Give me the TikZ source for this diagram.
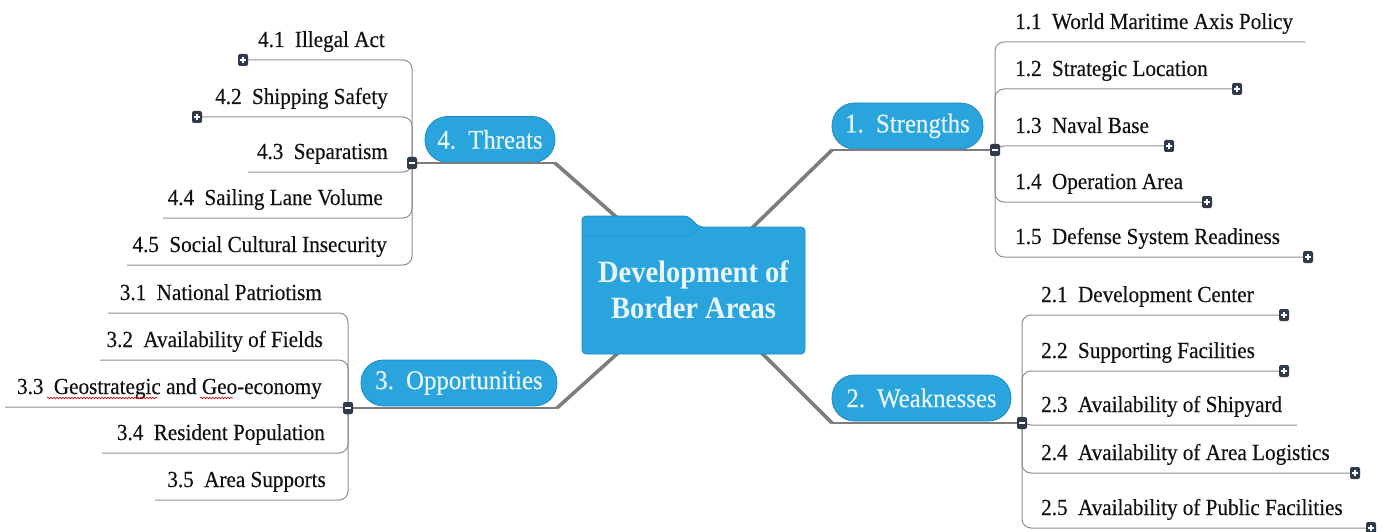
\documentclass[tikz,border=0pt]{standalone}
\usepackage{fontspec}
\setmainfont{Liberation Serif}[FakeStretch=0.92]
\newfontfamily\leaffont{Liberation Serif}[FakeStretch=0.92, FakeBold=0.35]
\usetikzlibrary{decorations.pathmorphing}
\definecolor{xblue}{HTML}{2AA4DD}
\definecolor{xblueedge}{HTML}{1F8BC2}
\definecolor{xtext}{HTML}{E8F6FC}
\definecolor{boxc}{HTML}{2F3A4C}
\definecolor{linec}{HTML}{8E8E8E}
\definecolor{spokec}{HTML}{7D7D7D}
\definecolor{ink}{HTML}{111111}
\newcommand\gapp{\hspace{0.45em}}
\begin{document}
\begin{tikzpicture}[x=1pt,y=-1pt,
  pill/.style={fill=xblue, draw=xblueedge, line width=0.8pt, rounded corners=22.5pt,
    text=xtext, font=\leaffont\fontsize{27}{30}\selectfont, inner sep=0pt, minimum height=46pt},
  centertext/.style={text=xtext, font=\bfseries\fontsize{31}{36}\selectfont, align=center, inner sep=0pt},
  leaf/.style={text=ink, font=\leaffont\fontsize{23}{26}\selectfont, inner sep=0pt},
  sub/.style={draw=linec, line width=1pt, rounded corners=9pt},
  branch/.style={draw=spokec, line width=1.5pt},
  spoke/.style={draw=spokec, line width=3.6pt},
  pbox/.style={fill=boxc, rounded corners=2pt, minimum width=10pt, minimum height=12pt, inner sep=0pt,
    path picture={\draw[white,line width=1.1pt]
      ([xshift=-2.6pt]path picture bounding box.center) -- ([xshift=2.6pt]path picture bounding box.center)
      ([yshift=-2.6pt]path picture bounding box.center) -- ([yshift=2.6pt]path picture bounding box.center);}},
  mbox/.style={fill=boxc, rounded corners=2pt, minimum width=10pt, minimum height=12pt, inner sep=0pt,
    path picture={\draw[white,line width=1.1pt]
      ([xshift=-2.6pt]path picture bounding box.center) -- ([xshift=2.6pt]path picture bounding box.center);}},
  squig/.style={draw=red!85!black, line width=0.6pt, decorate, decoration={snake, amplitude=0.8pt, segment length=3pt}}
]
\useasboundingbox (0,0) rectangle (1384,532);

% ---- key coordinates
\coordinate (hub) at (693.5,285);
\coordinate (sc) at (832,150);
\coordinate (tc) at (555,163);
\coordinate (oc) at (557,408);
\coordinate (wc) at (832,423);
\coordinate (sj) at (995,150);
\coordinate (tj) at (412,163);
\coordinate (oj) at (348,408);
\coordinate (wj) at (1022,423);

% ---- spokes from the centre
\draw[spoke] (hub) -- (sc);
\draw[spoke] (hub) -- (tc);
\draw[spoke] (hub) -- (oc);
\draw[spoke] (hub) -- (wc);

% ---- central folder
\filldraw[fill=xblue, draw=xblueedge, line width=0.8pt, rounded corners=4pt]
  (582,354) -- (582,216) -- (688,216) -- (699,227) -- (805,227) -- (805,354) -- cycle;
\draw[xblueedge!60!xblue, line width=0.7pt] (583,236) -- (691,236) -- (699,228);
\node[centertext] (center) at (693.5,290) {Development of\\Border Areas};

% ---- branch pills
\node[pill, minimum width=151pt] (str) at (907.5,126) {1.\gapp Strengths};
\node[pill, minimum width=130pt] (thr) at (490,139.5) {4.\gapp Threats};
\node[pill, minimum width=196pt] (opp) at (459,383) {3.\gapp Opportunities};
\node[pill, minimum width=179pt] (wea) at (921.5,398) {2.\gapp Weaknesses};

\draw[branch] (sc) -- (sj);
\draw[branch] (tc) -- (tj);
\draw[branch] (oc) -- (oj);
\draw[branch] (wc) -- (wj);

% ---- Strengths children
\node[leaf, anchor=base west] (l11) at (1015,29)  {1.1\gapp World Maritime Axis Policy};
\node[leaf, anchor=base west] (l12) at (1015,76)  {1.2\gapp Strategic Location};
\node[leaf, anchor=base west] (l13) at (1015,133) {1.3\gapp Naval Base};
\node[leaf, anchor=base west] (l14) at (1015,189) {1.4\gapp Operation Area};
\node[leaf, anchor=base west] (l15) at (1015,244) {1.5\gapp Defense System Readiness};
\coordinate (c11) at (1305,42);
\coordinate (c12) at (1237,89);
\coordinate (c13) at (1169,146);
\coordinate (c14) at (1207,202);
\coordinate (c15) at (1308,257);
\foreach \c in {c11,c12,c13,c14,c15} \draw[sub] (sj) |- (\c);

% ---- Weaknesses children
\node[leaf, anchor=base west] (l21) at (1041,302) {2.1\gapp Development Center};
\node[leaf, anchor=base west] (l22) at (1041,358) {2.2\gapp Supporting Facilities};
\node[leaf, anchor=base west] (l23) at (1041,412) {2.3\gapp Availability of Shipyard};
\node[leaf, anchor=base west] (l24) at (1041,460) {2.4\gapp Availability of Area Logistics};
\node[leaf, anchor=base west] (l25) at (1041,515) {2.5\gapp Availability of Public Facilities};
\coordinate (c21) at (1284,315);
\coordinate (c22) at (1284,371);
\coordinate (c23) at (1297,425);
\coordinate (c24) at (1355,473);
\coordinate (c25) at (1371,528);
\foreach \c in {c21,c22,c23,c24,c25} \draw[sub] (wj) |- (\c);

% ---- Threats children
\node[leaf, anchor=base east] (l41) at (385,47)  {4.1\gapp Illegal Act};
\node[leaf, anchor=base east] (l42) at (388,104) {4.2\gapp Shipping Safety};
\node[leaf, anchor=base east] (l43) at (388,159) {4.3\gapp Separatism};
\node[leaf, anchor=base east] (l44) at (383,205) {4.4\gapp Sailing Lane Volume};
\node[leaf, anchor=base east] (l45) at (387,252) {4.5\gapp Social Cultural Insecurity};
\coordinate (c41) at (243,60);
\coordinate (c42) at (197,117);
\coordinate (c43) at (248,172);
\coordinate (c44) at (163,218);
\coordinate (c45) at (127,265);
\foreach \c in {c41,c42,c43,c44,c45} \draw[sub] (tj) |- (\c);

% ---- Opportunities children
\node[leaf, anchor=base east] (l31) at (322,300) {3.1\gapp National Patriotism};
\node[leaf, anchor=base east] (l32) at (323,347) {3.2\gapp Availability of Fields};
\node[leaf, anchor=base east] (l33) at (322,394) {3.3\gapp Geostrategic and Geo-economy};
\node[leaf, anchor=base east] (l34) at (325,440) {3.4\gapp Resident Population};
\node[leaf, anchor=base east] (l35) at (326,487) {3.5\gapp Area Supports};
\coordinate (c31) at (108,313);
\coordinate (c32) at (100,360);
\coordinate (c33) at (5,407);
\coordinate (c34) at (102,453);
\coordinate (c35) at (155,500);
\foreach \c in {c31,c32,c33,c34,c35} \draw[sub] (oj) |- (\c);

% spell-check squiggles
\draw[squig] (47,398) -- (157,398);
\draw[squig] (200,398) -- (233,398);

% ---- expand / collapse boxes
\node[mbox] (mj1) at (sj) {};
\node[mbox] (mj2) at (tj) {};
\node[mbox] (mj3) at (oj) {};
\node[mbox] (mj4) at (wj) {};
\foreach \c in {c12,c13,c14,c15,c21,c22,c24,c25,c41,c42}
  \node[pbox] (p\c) at (\c) {};
\end{tikzpicture}
\end{document}
